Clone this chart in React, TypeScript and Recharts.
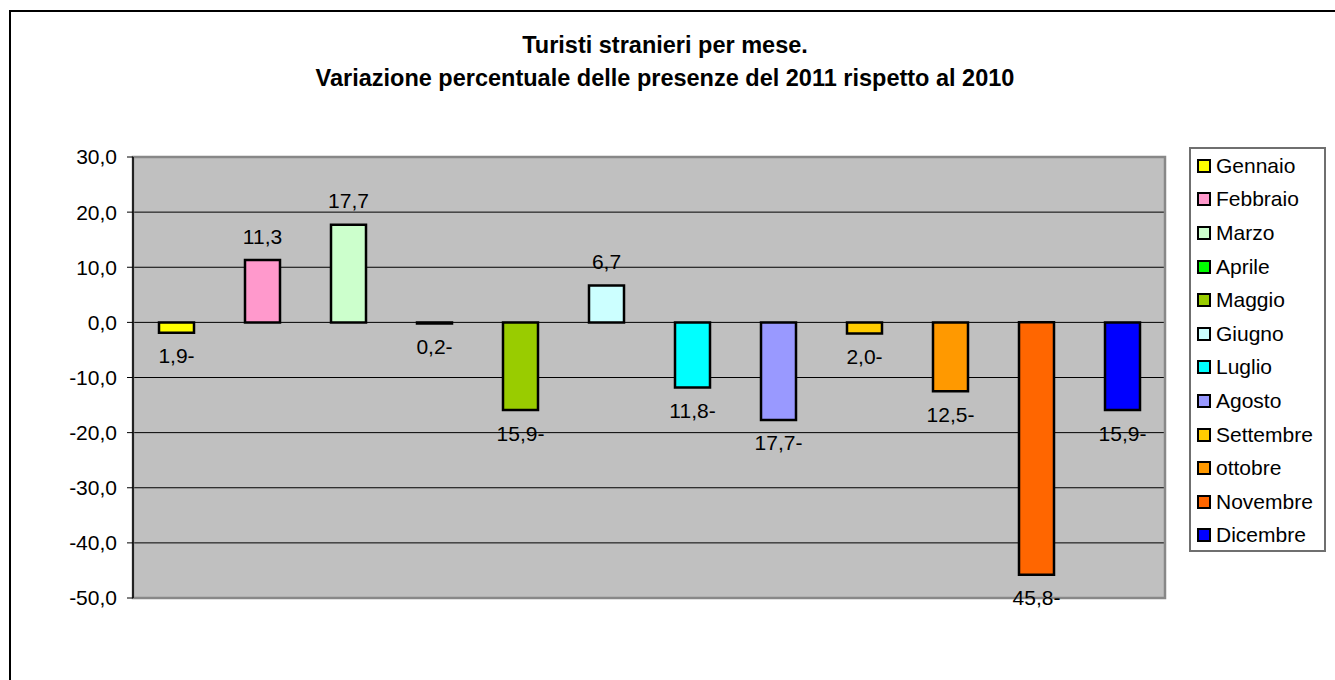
import React from 'react';
import {
  BarChart,
  Bar,
  YAxis,
  XAxis,
  CartesianGrid,
  Cell,
  LabelList,
  Legend,
  ReferenceArea,
} from 'recharts';

const months = [
  'Gennaio',
  'Febbraio',
  'Marzo',
  'Aprile',
  'Maggio',
  'Giugno',
  'Luglio',
  'Agosto',
  'Settembre',
  'ottobre',
  'Novembre',
  'Dicembre',
];

const values = [-1.9, 11.3, 17.7, -0.2, -15.9, 6.7, -11.8, -17.7, -2.0, -12.5, -45.8, -15.9];

const colors = [
  '#FFFF00',
  '#FF99CC',
  '#CCFFCC',
  '#00FF00',
  '#99CC00',
  '#CCFFFF',
  '#00FFFF',
  '#9999FF',
  '#FFCC00',
  '#FF9900',
  '#FF6600',
  '#0000FF',
];

const yTicks = [-50, -40, -30, -20, -10, 0, 10, 20, 30];

const titleLines = [
  'Turisti stranieri per mese.',
  'Variazione percentuale delle presenze del 2011 rispetto al 2010',
];

const data = months.map((m, i) => ({ name: m, value: values[i] }));

const FONT = '"Liberation Sans", Arial, Helvetica, sans-serif';

const fmtTick = (v: number) => v.toFixed(1).replace('.', ',');
const fmtLabel = (v: number) =>
  v < 0 ? Math.abs(v).toFixed(1).replace('.', ',') + '-' : v.toFixed(1).replace('.', ',');

const renderLabel = (props: any) => {
  const { x, y, width, height, value } = props;
  const top = Math.min(y, y + height);
  const bottom = Math.max(y, y + height);
  const ty = value >= 0 ? top - 16.5 : bottom + 30.5;
  return (
    <text
      x={x + width / 2}
      y={ty}
      textAnchor="middle"
      fontSize={21}
      fontFamily={FONT}
      fill="#000"
    >
      {fmtLabel(value)}
    </text>
  );
};

const renderLegend = () => (
  <div
    style={{
      width: 137,
      height: 405,
      boxSizing: 'border-box',
      border: '2px solid #6f6f6f',
      background: '#fff',
      paddingTop: 0,
      paddingLeft: 6,
      fontFamily: FONT,
      fontSize: 21,
      color: '#000',
    }}
  >
    {months.map((m, i) => (
      <div
        key={m}
        style={{ display: 'flex', alignItems: 'center', height: 33.6, whiteSpace: 'nowrap' }}
      >
        <span
          style={{
            display: 'inline-block',
            width: 10,
            height: 10,
            border: '2px solid #000',
            background: colors[i],
            marginRight: 5,
            flex: '0 0 auto',
          }}
        />
        <span style={{ lineHeight: '24px' }}>{m}</span>
      </div>
    ))}
  </div>
);

export default function App() {
  return (
    <div
      style={{
        position: 'fixed',
        left: 0,
        top: 0,
        width: 1335,
        height: 680,
        overflow: 'hidden',
        background: '#fff',
      }}
    >
      <div
        style={{
          position: 'absolute',
          left: 9,
          top: 10,
          width: 1400,
          height: 720,
          border: '2px solid #000',
          boxSizing: 'border-box',
        }}
      />
      <svg
        width={1335}
        height={120}
        style={{ position: 'absolute', left: 0, top: 0 }}
      >
        {titleLines.map((t, i) => (
          <text
            key={i}
            x={665}
            y={53 + i * 33}
            textAnchor="middle"
            fontSize={23.5}
            fontWeight="bold"
            fontFamily={FONT}
            fill="#000"
          >
            {t}
          </text>
        ))}
      </svg>
      <div style={{ position: 'absolute', left: 0, top: 0 }}>
        <BarChart
          width={1335}
          height={680}
          data={data}
          margin={{ top: 157, right: 170, bottom: 82, left: 73 }}
        >
          <CartesianGrid
            horizontal={true}
            vertical={false}
            stroke="#000"
            fill="#C0C0C0"
            fillOpacity={1}
          />
          <XAxis dataKey="name" hide />
          <YAxis
            width={60}
            domain={[-50, 30]}
            ticks={yTicks}
            interval={0}
            tickFormatter={fmtTick}
            tickSize={6}
            tickMargin={10}
            axisLine={{ stroke: '#000', strokeWidth: 1.5 }}
            tickLine={{ stroke: '#000' }}
            tick={{ fontSize: 21, fill: '#000', fontFamily: FONT }}
            allowDataOverflow
          />
          <ReferenceArea
            y1={-50}
            y2={30}
            fill="none"
            stroke="#888"
            strokeWidth={2.5}
            ifOverflow="visible"
          />
          <Bar
            dataKey="value"
            barSize={35}
            stroke="#000"
            strokeWidth={2.5}
            isAnimationActive={false}
          >
            {data.map((d, i) => (
              <Cell key={d.name} fill={colors[i]} />
            ))}
            <LabelList dataKey="value" content={renderLabel} />
          </Bar>
          <Legend
            layout="vertical"
            align="center"
            verticalAlign="middle"
            content={renderLegend}
            wrapperStyle={{ position: 'absolute', left: 1189, top: 147, width: 137, height: 405 }}
          />
        </BarChart>
      </div>
    </div>
  );
}
